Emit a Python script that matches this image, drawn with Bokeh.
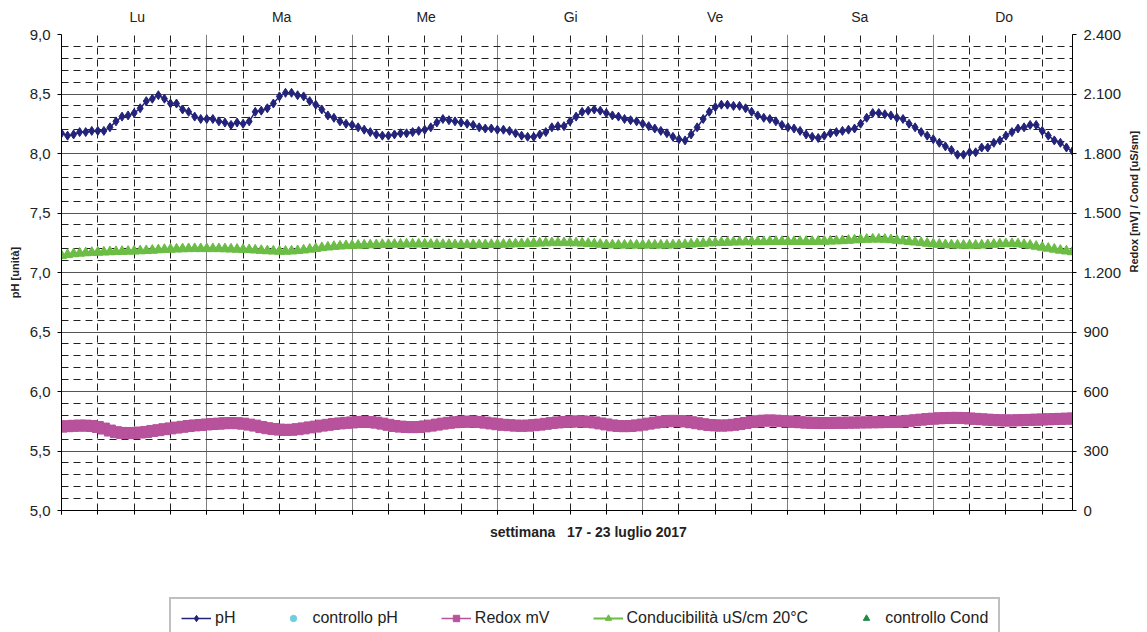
import math
from bokeh.plotting import figure
from bokeh.layouts import column
from bokeh.models import (Range1d, LinearAxis, SingleIntervalTicker, FixedTicker,
                          CustomJSTickFormatter, Legend, LegendItem)
from bokeh.embed import file_html
from bokeh.resources import INLINE

hours = list(range(168))
days = ["Lu", "Ma", "Me", "Gi", "Ve", "Sa", "Do"]

ph = [
    8.17, 8.15, 8.16, 8.18, 8.18, 8.19, 8.19, 8.19, 8.22, 8.27,
    8.31, 8.32, 8.34, 8.38, 8.44, 8.46, 8.49, 8.46, 8.42, 8.42,
    8.37, 8.35, 8.31, 8.29, 8.29, 8.29, 8.27, 8.26, 8.24, 8.26,
    8.25, 8.27, 8.35, 8.36, 8.38, 8.42, 8.48, 8.51, 8.51, 8.49,
    8.48, 8.44, 8.41, 8.37, 8.32, 8.30, 8.27,
    8.25, 8.24, 8.22, 8.20, 8.18, 8.16, 8.15, 8.15, 8.16, 8.17,
    8.17, 8.18, 8.19, 8.20, 8.22, 8.26, 8.29, 8.28, 8.27, 8.26,
    8.25, 8.24, 8.22, 8.21, 8.21, 8.20, 8.20, 8.19, 8.17, 8.15,
    8.14, 8.14, 8.16, 8.18, 8.22, 8.23, 8.23, 8.27, 8.31, 8.35,
    8.36, 8.37, 8.36, 8.34, 8.32, 8.31, 8.29, 8.28, 8.27, 8.25,
    8.23, 8.21, 8.19, 8.17, 8.14, 8.12, 8.11, 8.16, 8.22, 8.29,
    8.35, 8.39, 8.41, 8.41, 8.40, 8.40, 8.38, 8.35, 8.32, 8.30,
    8.29, 8.27, 8.24, 8.22, 8.21, 8.19, 8.16, 8.14, 8.13, 8.15,
    8.17, 8.18, 8.19, 8.20, 8.21, 8.25, 8.30, 8.34, 8.34, 8.33,
    8.32, 8.30,
    8.29, 8.25, 8.22, 8.18, 8.15, 8.12, 8.09, 8.06, 8.03, 7.99,
    7.99, 8.01, 8.01, 8.05, 8.05, 8.09, 8.11, 8.15, 8.18, 8.21,
    8.22, 8.24, 8.24, 8.19, 8.15, 8.11, 8.09, 8.05, 8.02,
]

redox = [
    423, 425, 427, 428, 428, 426, 421, 413, 403, 395, 391, 390,
    391, 393, 396, 401, 405, 410, 414, 418, 422, 426, 429, 431,
    434, 436, 438, 440, 441, 440, 438, 433, 428, 421, 415, 411,
    408, 406, 407, 410, 414, 419, 423, 428, 432, 436, 439, 442,
    444, 446, 447, 446, 443, 438, 432, 426, 423, 421, 420, 421,
    424, 428, 433, 438, 442, 445, 447, 448, 448, 446, 443, 439,
    435, 432, 430, 428, 427, 428, 430, 433, 437, 441, 444, 446,
    448, 449, 449, 447, 444, 439, 434, 429, 426, 425, 426, 429,
    433, 438, 443, 447, 450, 452, 451, 449, 445, 440, 435, 431,
    429, 428, 429, 432, 436, 441, 446, 450, 453, 454, 453, 451,
    449, 447, 445, 443, 442, 441, 441, 441, 442, 442, 443, 443,
    444, 444, 445, 445, 446, 446, 446, 449, 452, 455, 458, 461,
    463, 465, 466, 467, 467, 466, 464, 462, 460, 458, 456, 455,
    454, 454, 455, 456, 457, 458, 459, 460, 461, 462, 463, 464,
]

cond = [
    1285, 1290, 1294, 1297, 1299, 1301, 1302, 1303, 1304, 1305, 1306, 1307,
    1308, 1309, 1310, 1312, 1314, 1316, 1317, 1318, 1319, 1320, 1320, 1320,
    1320, 1320, 1320, 1319, 1318, 1317, 1316, 1315, 1313, 1311, 1309, 1308,
    1307, 1307, 1308, 1310, 1313, 1317, 1321, 1325, 1328, 1331, 1333, 1335,
    1336, 1337, 1338, 1339, 1340, 1341, 1341, 1342, 1342, 1343, 1343, 1343,
    1343, 1342, 1342, 1341, 1341, 1340, 1340, 1340, 1340, 1340, 1340, 1341,
    1341, 1342, 1343, 1344, 1345, 1346, 1347, 1348, 1349, 1350, 1350, 1350,
    1350, 1349, 1348, 1346, 1344, 1342, 1340, 1339, 1338, 1338, 1338, 1338,
    1338, 1338, 1338, 1338, 1338, 1339, 1340, 1341, 1343, 1345, 1347, 1349,
    1350, 1351, 1352, 1353, 1354, 1354, 1355, 1355, 1355, 1356, 1356, 1356,
    1356, 1356, 1356, 1356, 1356, 1357, 1357, 1358, 1359, 1360, 1362, 1364,
    1366, 1367, 1368, 1368, 1367, 1365, 1362, 1359, 1356, 1353, 1350, 1347,
    1344, 1342, 1340, 1339, 1338, 1337, 1337, 1337, 1338, 1340, 1342, 1344,
    1345, 1345, 1344, 1341, 1337, 1332, 1327, 1322, 1317, 1312, 1308, 1304,
]

ctrl_ph_x, ctrl_ph_y = [], []
ctrl_cond_x, ctrl_cond_y = [], []

legend_labels = ["pH", "controllo pH", "Redox mV", "Conducibilità uS/cm 20°C",
                 "controllo Cond"]
x_title = "settimana\u00a0\u00a0\u00a017 - 23 luglio 2017"

FONT = "Liberation Sans"
NAVY = "#23237A"
MAGENTA = "#B8529C"
GREEN = "#6BBD45"
CYAN = "#6CCFE0"
DKGREEN = "#1E8C48"

p = figure(frame_width=1011, frame_height=476, output_backend="svg",
           toolbar_location=None,
           x_range=Range1d(0, 167), y_range=Range1d(5, 9),
           min_border_left=0, min_border_right=0, min_border_top=0,
           min_border_bottom=0, background_fill_color="white",
           border_fill_color="white")
p.margin = (5, 0, 0, 5)
p.outline_line_color = None
p.extra_y_ranges = {"mv": Range1d(0, 2400)}

# bottom axis: ticks + x title (leading no-break spaces nudge it right of centre)
xt = SingleIntervalTicker(interval=24, num_minor_ticks=4)
p.xaxis.ticker = xt
p.xgrid.ticker = xt
p.xaxis.formatter = CustomJSTickFormatter(code="return ''")
p.xaxis.major_label_text_font_size = "0px"
p.xaxis.major_label_standoff = 0
p.xaxis.axis_line_color = "#000000"
p.xaxis.major_tick_in = 0
p.xaxis.major_tick_out = 4
p.xaxis.minor_tick_in = 0
p.xaxis.minor_tick_out = 4
p.xaxis.major_tick_line_color = "#000000"
p.xaxis.minor_tick_line_color = "#000000"
p.xaxis.axis_label = "\u00a0" * 11 + x_title
p.xaxis.axis_label_text_font = FONT
p.xaxis.axis_label_text_font_size = "14px"
p.xaxis.axis_label_text_font_style = "bold"
p.xaxis.axis_label_text_color = "#222222"
p.xaxis.axis_label_standoff = 9

# left axis
yt = SingleIntervalTicker(interval=0.5, num_minor_ticks=5)
p.yaxis.ticker = yt
p.ygrid.ticker = yt
p.yaxis.formatter = CustomJSTickFormatter(code="return tick.toFixed(1).replace('.', ',')")
p.yaxis.axis_label = "pH [unità]"
ax = p.yaxis[0]
ax.axis_line_color = "#000000"
ax.major_tick_in = 0
ax.major_tick_out = 4
ax.minor_tick_in = 0
ax.minor_tick_out = 0
ax.major_label_standoff = 7
ax.major_label_text_font = FONT
ax.major_label_text_font_size = "15px"
ax.major_label_text_color = "#222222"
ax.axis_label_text_font = FONT
ax.axis_label_text_font_size = "11px"
ax.axis_label_text_font_style = "bold"
ax.axis_label_text_color = "#222222"
ax.axis_label_standoff = 6

# right axis
ry = LinearAxis(y_range_name="mv", axis_label="Redox [mV] / Cond [uS/sm]",
                ticker=SingleIntervalTicker(interval=300),
                formatter=CustomJSTickFormatter(code="""
                    const s = Math.round(tick).toString();
                    return s.replace(/\\B(?=(\\d{3})+(?!\\d))/g, '.');"""))
ry.axis_line_color = "#000000"
ry.major_tick_in = 0
ry.major_tick_out = 4
ry.minor_tick_in = 0
ry.minor_tick_out = 0
ry.major_label_standoff = 7
ry.major_label_text_font = FONT
ry.major_label_text_font_size = "15px"
ry.major_label_text_color = "#222222"
ry.axis_label_text_font = FONT
ry.axis_label_text_font_size = "11px"
ry.axis_label_text_font_style = "bold"
ry.axis_label_text_color = "#222222"
ry.axis_label_standoff = 10
if "axis_label_orientation" in ry.properties():
    ry.axis_label_orientation = math.pi / 2
p.add_layout(ry, "right")

# top axis with day names
day_pos = [12.5 + 23.87 * i for i in range(len(days))]
top = LinearAxis(ticker=FixedTicker(ticks=day_pos),
                 formatter=CustomJSTickFormatter(args=dict(days=days),
                                                 code="return days[index]"))
top.axis_line_color = None
top.major_tick_line_color = None
top.minor_tick_line_color = None
top.major_tick_in = 0
top.major_tick_out = 0
top.minor_tick_in = 0
top.minor_tick_out = 0
top.major_label_standoff = 10
top.major_label_text_font = FONT
top.major_label_text_font_size = "14px"
top.major_label_text_color = "#222222"
p.add_layout(top, "above")

# grids
p.xgrid.grid_line_color = "#7f7f7f"
p.xgrid.grid_line_width = 1
p.xgrid.minor_grid_line_color = "#222222"
p.xgrid.minor_grid_line_dash = "7 5"
p.ygrid.grid_line_color = "#555555"
p.ygrid.grid_line_width = 1
p.ygrid.minor_grid_line_color = "#222222"
p.ygrid.minor_grid_line_dash = "7 5"

# series
p.line(hours, redox, y_range_name="mv", color=MAGENTA, line_width=3)
p.scatter(hours, redox, y_range_name="mv", marker="square", size=11,
          fill_color=MAGENTA, line_color=MAGENTA)
p.line(hours, cond, y_range_name="mv", color=GREEN, line_width=3)
p.scatter(hours, cond, y_range_name="mv", marker="triangle", size=10,
          fill_color=GREEN, line_color=GREEN)
p.line(hours, ph, color=NAVY, line_width=1.5)
p.scatter(hours, ph, marker="diamond", size=9, fill_color=NAVY, line_color=NAVY)
p.scatter(ctrl_ph_x, ctrl_ph_y, marker="circle", size=11,
          fill_color=CYAN, line_color=CYAN)
p.scatter(ctrl_cond_x, ctrl_cond_y, y_range_name="mv", marker="triangle",
          size=11, fill_color=DKGREEN, line_color=DKGREEN)

# legend strip below the chart.  The series are re-attached here only as
# legend sources; the strip's y range lies below all of their values, so
# nothing of them is drawn in it.
LF_H = 90
lf = figure(frame_width=1131, frame_height=LF_H, output_backend="svg",
            toolbar_location=None, x_axis_type=None, y_axis_type=None,
            x_range=Range1d(0, 1131), y_range=Range1d(-LF_H, 0),
            min_border_left=0, min_border_right=0, min_border_top=0,
            min_border_bottom=0, background_fill_color="white",
            border_fill_color="white")
lf.outline_line_color = None
lf.xgrid.visible = False
lf.ygrid.visible = False

l_ph = [lf.line(hours, ph, color=NAVY, line_width=1.5),
        lf.scatter(hours, ph, marker="diamond", size=10, fill_color=NAVY,
                   line_color=NAVY)]
l_cph = [lf.scatter(hours, ph, marker="circle", size=12, fill_color=CYAN,
                    line_color=CYAN)]
l_red = [lf.line(hours, redox, color=MAGENTA, line_width=1.5),
         lf.scatter(hours, redox, marker="square", size=10, fill_color=MAGENTA,
                    line_color=MAGENTA)]
l_cond = [lf.line(hours, cond, color=GREEN, line_width=2),
          lf.scatter(hours, cond, marker="triangle", size=10, fill_color=GREEN,
                     line_color=GREEN)]
l_ccond = [lf.scatter(hours, cond, marker="triangle", size=10, fill_color=DKGREEN,
                      line_color=DKGREEN)]

legend = Legend(items=[LegendItem(label=lab, renderers=rs) for lab, rs in
                       zip(legend_labels, [l_ph, l_cph, l_red, l_cond, l_ccond])],
                orientation="horizontal", location=(169, -7))
legend.margin = 0
legend.padding = 10
legend.spacing = 43
legend.glyph_width = 30
legend.glyph_height = 16
legend.label_height = 16
legend.label_standoff = 4
legend.label_text_font = FONT
legend.label_text_font_size = "16px"
legend.label_text_color = "#222222"
legend.border_line_color = "#808080"
legend.border_line_width = 2
legend.background_fill_color = "white"
legend.background_fill_alpha = 1
lf.add_layout(legend)

layout = column(p, lf, spacing=0)
open("out.html", "w").write(file_html(layout, INLINE))
